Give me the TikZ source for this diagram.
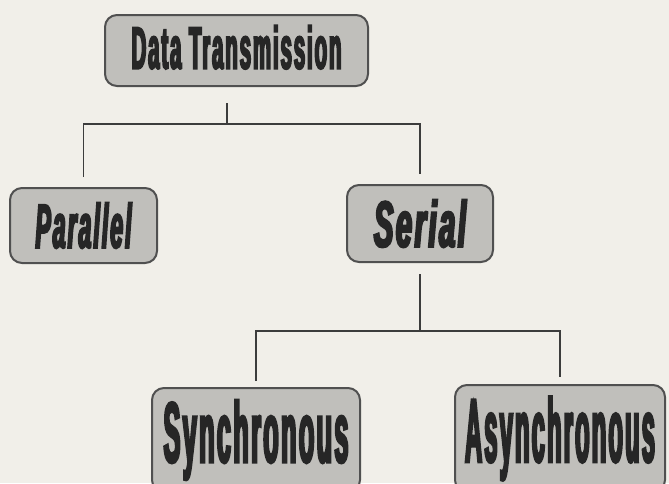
\documentclass[tikz,border=0pt]{standalone}
\usepackage{fontspec}
\usepackage{graphicx}
\newfontfamily\boxfont{Liberation Sans}[FakeStretch=0.45,LetterSpace=4,BoldFeatures={FakeBold=3.5},BoldItalicFeatures={FakeBold=3.5}]
\definecolor{bg}{RGB}{241,239,233}
\definecolor{boxfill}{RGB}{192,191,187}
\definecolor{boxline}{RGB}{80,80,80}
\definecolor{ink}{RGB}{38,38,38}
\definecolor{wire}{RGB}{60,60,60}
\newcommand{\boxtext}[3]{\resizebox{#1pt}{#2pt}{\fontsize{58}{60}\selectfont #3}}
\begin{document}
\begin{tikzpicture}[x=1pt,y=-1pt,
  box/.style={draw=boxline, line width=2pt, fill=boxfill, rounded corners=12pt,
    inner sep=0pt, text=ink, font=\boxfont\bfseries},
  conn/.style={draw=wire, line width=1.8pt}]
\useasboundingbox (0,0) rectangle (669,483);
\clip (0,0) rectangle (669,483);
\fill[bg] (0,0) rectangle (669,483);

\node[box, minimum width=263pt, minimum height=71pt] (dt) at (236.5,50.5)
  {\raisebox{7pt}{\boxtext{210}{43}{Data Transmission}}};
\node[box, minimum width=147pt, minimum height=75pt] (par) at (83.5,225.5)
  {\boxtext{96}{45}{\itshape Parallel}};
\node[box, minimum width=146pt, minimum height=77pt] (ser) at (420,223.5)
  {\boxtext{92}{47}{\itshape Serial}};
\node[box, minimum width=208pt, minimum height=104pt] (syn) at (256,440)
  {\boxtext{185}{62}{Synchronous}};
\node[box, minimum width=210pt, minimum height=107pt] (asy) at (560,438.5)
  {\boxtext{190}{65}{Asynchronous}};

\coordinate (j1) at (227,124);
\coordinate (j2) at (420,331);

\draw[conn] ([yshift=-16pt]dt.south -| j1) -- (j1);
\draw[conn] ([yshift=10pt]par.north) |- (j1) -| ([yshift=10pt]ser.north);
\draw[conn] ([yshift=-11pt]ser.south) -- (j2);
\draw[conn] ([yshift=6pt]syn.north) |- (j2) -| ([yshift=7pt]asy.north);
\end{tikzpicture}
\end{document}
